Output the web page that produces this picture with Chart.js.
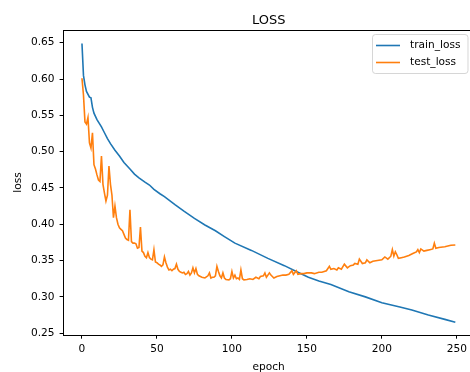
<!DOCTYPE html>
<html lang="en">
<head>
    <meta charset="UTF-8">
    <title>LOSS</title>
    <script src="https://cdn.jsdelivr.net/npm/chart.js"></script>
    <style>
        html, body {
            margin: 0;
            padding: 0;
            background: #fff;
            overflow: hidden;
        }

        canvas {
            display: block;
        }
    </style>
</head>
<body>

    <canvas id="lossChart" width="476" height="372"></canvas>

    <script>
        // values
        const trainEpochs = [0, 1, 2, 3, 5, 6, 7, 8, 10, 13, 15, 17, 19, 22, 25, 28, 32, 35, 38, 42, 45, 48,
            52, 55, 62, 68, 75, 82, 89, 95, 102, 113, 124, 135, 144, 151, 158, 166, 178, 189, 200, 212,
            220, 231, 242, 249];
        const trainLoss = [0.649, 0.605, 0.592, 0.583, 0.575, 0.574, 0.561, 0.553, 0.544, 0.534, 0.526,
            0.518, 0.511, 0.502, 0.494, 0.485, 0.476, 0.469, 0.464, 0.458, 0.454, 0.448, 0.442, 0.438,
            0.427, 0.418, 0.408, 0.399, 0.391, 0.383, 0.374, 0.364, 0.353, 0.343, 0.334, 0.327, 0.322,
            0.317, 0.307, 0.300, 0.292, 0.286, 0.282, 0.275, 0.269, 0.265];

        const testEpochs = [0, 1, 2, 3, 4, 5, 6, 7, 8, 9, 10, 11, 12, 13, 14, 15, 16, 17, 18, 19, 20,
            21, 22, 23, 24, 25, 26, 27, 28, 29, 30, 31, 32, 33, 34, 35, 36, 37, 38, 39, 40, 41, 42, 43,
            44, 45, 46, 47, 48, 49, 50, 51, 52, 53, 54, 55, 56, 57, 58, 59, 60, 61, 62, 63, 64, 65, 66,
            67, 68, 69, 70, 71, 72, 73, 74, 75, 76, 77, 78, 79, 80, 82, 84, 85, 86, 87, 88, 89, 90, 91,
            92, 93, 94, 95, 96, 98, 99, 100, 101, 102, 103, 104, 105, 106, 107, 108, 110, 112, 114, 116,
            118, 119, 121, 122, 123, 124, 125, 126, 128, 130, 132, 134, 136, 138, 140, 141, 143, 144,
            146, 148, 150, 153, 155, 158, 160, 163, 165, 166, 168, 170, 171, 173, 175, 177, 179, 181,
            182, 184, 185, 187, 189, 190, 192, 194, 197, 200, 202, 204, 206, 207, 208, 209, 210, 211,
            213, 215, 218, 221, 223, 224, 225, 226, 228, 230, 232, 234, 235, 236, 238, 242, 246, 249];
        const testLoss = [0.601, 0.578, 0.541, 0.538, 0.547, 0.512, 0.505, 0.526, 0.482, 0.476, 0.468,
            0.461, 0.459, 0.494, 0.455, 0.443, 0.432, 0.440, 0.480, 0.455, 0.440, 0.409, 0.425, 0.409,
            0.400, 0.395, 0.393, 0.391, 0.386, 0.381, 0.379, 0.378, 0.420, 0.376, 0.374, 0.374, 0.373,
            0.367, 0.368, 0.396, 0.363, 0.361, 0.356, 0.354, 0.361, 0.354, 0.352, 0.351, 0.365, 0.348,
            0.347, 0.345, 0.344, 0.342, 0.344, 0.355, 0.347, 0.341, 0.337, 0.338, 0.336, 0.338, 0.339,
            0.345, 0.338, 0.335, 0.334, 0.333, 0.334, 0.331, 0.332, 0.335, 0.330, 0.333, 0.340, 0.333,
            0.339, 0.331, 0.329, 0.328, 0.327, 0.326, 0.329, 0.333, 0.326, 0.327, 0.327, 0.329, 0.342,
            0.335, 0.329, 0.326, 0.333, 0.326, 0.324, 0.3235, 0.325, 0.335, 0.326, 0.330, 0.325, 0.326,
            0.324, 0.337, 0.325, 0.3235, 0.324, 0.325, 0.324, 0.327, 0.325, 0.328, 0.329, 0.333, 0.327,
            0.330, 0.333, 0.330, 0.326, 0.328, 0.329, 0.330, 0.330, 0.331, 0.336, 0.331, 0.336, 0.331,
            0.332, 0.332, 0.333, 0.333, 0.332, 0.334, 0.334, 0.336, 0.342, 0.338, 0.339, 0.337, 0.340,
            0.338, 0.345, 0.340, 0.343, 0.344, 0.346, 0.345, 0.352, 0.346, 0.347, 0.351, 0.347, 0.349,
            0.350, 0.351, 0.355, 0.352, 0.356, 0.365, 0.356, 0.362, 0.358, 0.353, 0.354, 0.355, 0.357,
            0.360, 0.362, 0.365, 0.361, 0.366, 0.363, 0.364, 0.365, 0.366, 0.374, 0.367, 0.368, 0.369,
            0.371, 0.3715];

        const xTicks = [0, 50, 100, 150, 200, 250];
        const yTicks = [0.25, 0.30, 0.35, 0.40, 0.45, 0.50, 0.55, 0.60, 0.65];

        const FONT = 'DejaVu Sans';

        function toPoints(xs, ys) {
            return xs.map((x, i) => ({ x: x, y: ys[i] }));
        }

        // title, top spine and a matplotlib-like legend
        const mplExtras = {
            id: 'mplExtras',
            afterDraw(chart) {
                const { ctx, chartArea: a } = chart;
                ctx.save();

                ctx.fillStyle = '#000';
                ctx.font = '13px "' + FONT + '"';
                ctx.textAlign = 'center';
                ctx.textBaseline = 'alphabetic';
                ctx.fillText('LOSS', (a.left + a.right) / 2, 23.5);

                ctx.strokeStyle = '#000';
                ctx.lineWidth = 1;
                ctx.beginPath();
                ctx.moveTo(a.left, a.top + 0.5);
                ctx.lineTo(a.right, a.top + 0.5);
                ctx.moveTo(a.right - 0.5, a.top);
                ctx.lineTo(a.right - 0.5, a.bottom);
                ctx.stroke();

                // legend box
                ctx.fillStyle = 'rgba(255,255,255,0.8)';
                ctx.strokeStyle = 'rgba(204,204,204,0.8)';
                ctx.beginPath();
                ctx.roundRect(372.5, 34.5, 95.5, 39, 3);
                ctx.fill();
                ctx.stroke();

                const items = chart.data.datasets.map(d => ({ label: d.label, color: d.borderColor }));
                items.sort((p, q) => (p.label === 'train_loss' ? -1 : 1));
                ctx.font = '10.6px "' + FONT + '"';
                ctx.textAlign = 'left';
                ctx.textBaseline = 'middle';
                items.forEach((it, i) => {
                    const y = 45.5 + i * 17;
                    ctx.strokeStyle = it.color;
                    ctx.lineWidth = 1.6;
                    ctx.beginPath();
                    ctx.moveTo(376, y);
                    ctx.lineTo(400, y);
                    ctx.stroke();
                    ctx.fillStyle = '#000';
                    ctx.fillText(it.label, 410, y);
                });

                ctx.restore();
            }
        };

        const ctx = document.getElementById('lossChart').getContext('2d');

        new Chart(ctx, {
            type: 'line',
            data: {
                datasets: [
                    {
                        label: 'train_loss',
                        data: toPoints(trainEpochs, trainLoss),
                        borderColor: '#1f77b4',
                        borderWidth: 1.6,
                        pointRadius: 0,
                        tension: 0,
                        fill: false,
                        order: 1
                    },
                    {
                        label: 'test_loss',
                        data: toPoints(testEpochs, testLoss),
                        borderColor: '#ff7f0e',
                        borderWidth: 1.6,
                        pointRadius: 0,
                        tension: 0,
                        fill: false,
                        order: 0
                    }
                ]
            },
            options: {
                responsive: false,
                animation: false,
                layout: {
                    padding: { top: 30, left: 0, right: 2, bottom: 0 }
                },
                plugins: {
                    legend: { display: false },
                    title: { display: false },
                    tooltip: { enabled: false }
                },
                scales: {
                    x: {
                        type: 'linear',
                        min: -12.45,
                        max: 261.45,
                        afterFit: s => { s.height = 37; },
                        afterBuildTicks: s => { s.ticks = xTicks.map(v => ({ value: v })); },
                        grid: {
                            drawOnChartArea: false,
                            drawTicks: true,
                            tickLength: 3.7,
                            color: '#000'
                        },
                        border: { display: true, color: '#000', width: 1 },
                        ticks: {
                            padding: 4.5,
                            color: '#000',
                            font: { family: FONT, size: 10.6 },
                            maxRotation: 0,
                            callback: v => String(v)
                        },
                        title: {
                            display: true,
                            text: 'epoch',
                            color: '#000',
                            font: { family: FONT, size: 10.6 },
                            padding: { top: 0, bottom: -1.5 }
                        }
                    },
                    y: {
                        type: 'linear',
                        min: 0.2475,
                        max: 0.6675,
                        afterFit: s => { s.width = 63.3; },
                        afterBuildTicks: s => { s.ticks = yTicks.map(v => ({ value: v })); },
                        grid: {
                            drawOnChartArea: false,
                            drawTicks: true,
                            tickLength: 3.7,
                            color: '#000'
                        },
                        border: { display: true, color: '#000', width: 1 },
                        ticks: {
                            padding: 5,
                            color: '#000',
                            font: { family: FONT, size: 10.6 },
                            callback: v => v.toFixed(2)
                        },
                        title: {
                            display: true,
                            text: 'loss',
                            color: '#000',
                            font: { family: FONT, size: 10.6 },
                            padding: { top: 11.6, bottom: 0 }
                        }
                    }
                }
            },
            plugins: [mplExtras]
        });
    </script>

</body>
</html>
